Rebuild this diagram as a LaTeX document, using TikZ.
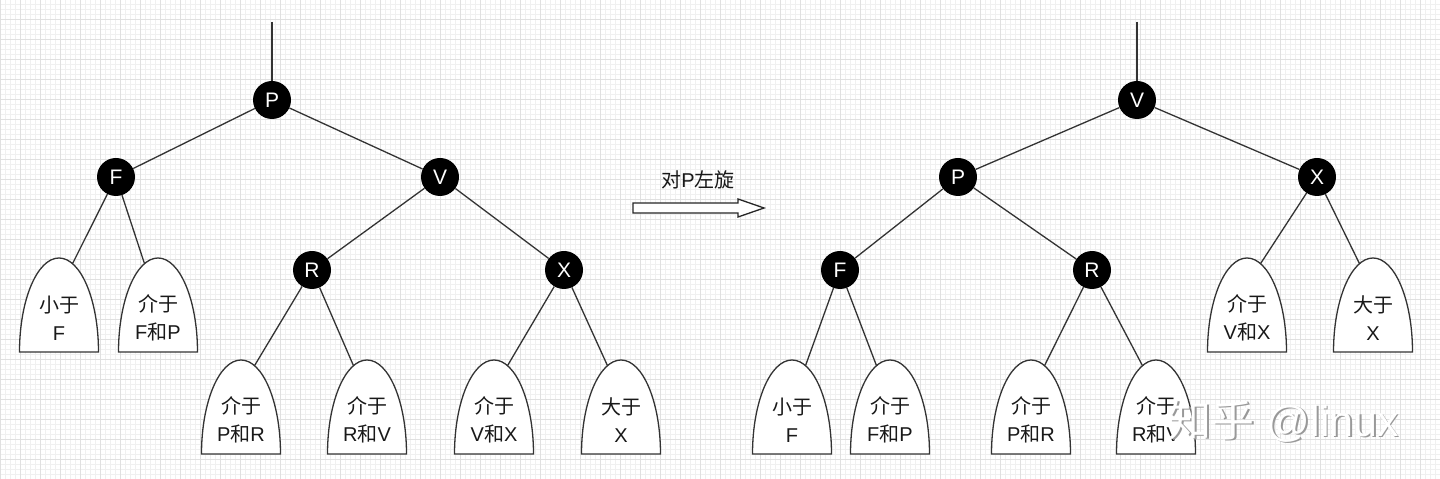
\documentclass[tikz,border=0pt]{standalone}
\usepackage{fontspec}
\setmainfont{Liberation Sans}
\newfontfamily\cjk{Noto Sans CJK SC}
\newcommand{\zh}[1]{{\cjk #1}}
\tikzset{
  key/.style={circle, fill=black, text=white, minimum size=38pt, inner sep=0pt, font=\fontsize{21}{21}\selectfont},
  edge/.style={draw=black!80, line width=1.3pt},
  pics/subtree/.style={code={
    \draw[edge, fill=white] (-39.5,0) arc[start angle=180, end angle=0, x radius=39.5, y radius=94] -- cycle;
    \node[align=center, font=\fontsize{20}{28}\selectfont, text=black!90] (-txt) at (0,34) {#1};
    \coordinate (-l) at (-13.5,88.3);
    \coordinate (-r) at (13.5,88.3);
  }}
}
\begin{document}
\begin{tikzpicture}[x=1pt, y=1pt]
    \useasboundingbox (0,0) rectangle (1440,479);
    \clip (0,0) rectangle (1440,479);
    %sfondo a griglia
    \fill[white] (0,0) rectangle (1440,479);
    \draw[black!6, line width=0.5pt, step=5] (0,0) grid (1440,479);
    \draw[black!12, line width=0.6pt, step=20] (0,0) grid (1440,479);

    %albero di sinistra
    \coordinate (lt) at (272,457);
    \node[key] (lP) at (272,379) {P};
    \node[key] (lF) at (116,302) {F};
    \node[key] (lV) at (440,302) {V};
    \node[key] (lR) at (312,209) {R};
    \node[key] (lX) at (564,209) {X};
    \pic (la1) at (59,127) {subtree={\zh{小于}\\F}};
    \pic (la2) at (158,127) {subtree={\zh{介于}\\F\zh{和}P}};
    \pic (la3) at (241,25) {subtree={\zh{介于}\\P\zh{和}R}};
    \pic (la4) at (367,25) {subtree={\zh{介于}\\R\zh{和}V}};
    \pic (la5) at (494,25) {subtree={\zh{介于}\\V\zh{和}X}};
    \pic (la6) at (621,25) {subtree={\zh{大于}\\X}};
    \draw[edge] (lt) -- (lP);
    \draw[edge] (lP) -- (lF);
    \draw[edge] (lP) -- (lV);
    \draw[edge] (lF) -- (la1-r);
    \draw[edge] (lF) -- (la2-l);
    \draw[edge] (lV) -- (lR);
    \draw[edge] (lV) -- (lX);
    \draw[edge] (lR) -- (la3-r);
    \draw[edge] (lR) -- (la4-l);
    \draw[edge] (lX) -- (la5-r);
    \draw[edge] (lX) -- (la6-l);

    %freccia di rotazione
    \node[font=\fontsize{20}{20}\selectfont, text=black!90] (rot) at (698,299) {\zh{对}P\zh{左旋}};
    \draw[draw=black!85, line width=1.3pt, fill=white] (633,266) -- (738,266) -- (738,262) -- (764,271)
      -- (738,280) -- (738,276) -- (633,276) -- cycle;

    %albero di destra
    \coordinate (rt) at (1137,457);
    \node[key] (rV) at (1137,379) {V};
    \node[key] (rP) at (958,302) {P};
    \node[key] (rX) at (1317,302) {X};
    \node[key] (rF) at (840,209) {F};
    \node[key] (rR) at (1092,209) {R};
    \pic (rb1) at (792,25) {subtree={\zh{小于}\\F}};
    \pic (rb2) at (890,25) {subtree={\zh{介于}\\F\zh{和}P}};
    \pic (rb3) at (1031,25) {subtree={\zh{介于}\\P\zh{和}R}};
    \pic (rb4) at (1156,25) {subtree={\zh{介于}\\R\zh{和}V}};
    \pic (rb5) at (1247,127) {subtree={\zh{介于}\\V\zh{和}X}};
    \pic (rb6) at (1373,127) {subtree={\zh{大于}\\X}};
    \draw[edge] (rt) -- (rV);
    \draw[edge] (rV) -- (rP);
    \draw[edge] (rV) -- (rX);
    \draw[edge] (rP) -- (rF);
    \draw[edge] (rP) -- (rR);
    \draw[edge] (rF) -- (rb1-r);
    \draw[edge] (rF) -- (rb2-l);
    \draw[edge] (rR) -- (rb3-r);
    \draw[edge] (rR) -- (rb4-l);
    \draw[edge] (rX) -- (rb5-r);
    \draw[edge] (rX) -- (rb6-l);

    %filigrana
    \node[font=\fontsize{43}{43}\selectfont, text=black!40] (wms) at (1285.5,56.5) {\zh{知乎} @linux};
    \node[font=\fontsize{43}{43}\selectfont, text=white] (wm) at (1284,58) {\zh{知乎} @linux};
\end{tikzpicture}
\end{document}
